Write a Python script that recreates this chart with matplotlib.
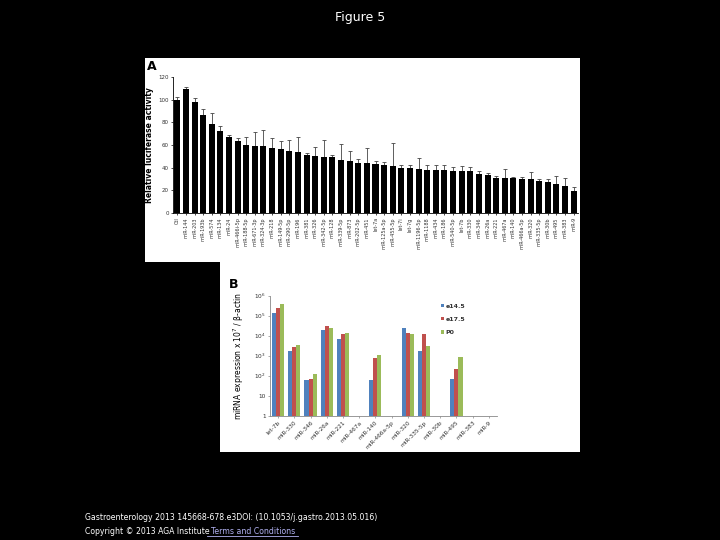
import matplotlib
matplotlib.use("Agg")
import matplotlib.pyplot as plt
import numpy as np

# ---------------- Panel A data ----------------
a_labels = ["Ctl", "miR-144", "miR-203", "miR-193b", "miR-574", "miR-134", "miR-24",
            "miR-466i-5p", "miR-188-5p", "miR-671-3p", "miR-324-3p", "miR-218",
            "miR-149-5p", "miR-290-5p", "miR-196", "miR-381", "miR-326", "miR-342-5p",
            "miR-128", "miR-339-5p", "miR-873", "miR-202-5p", "miR-451", "let-7a",
            "miR-125a-5p", "miR-455-5p", "let-7i", "let-7g", "miR-1196-5p", "miR-1188",
            "miR-434", "miR-186", "miR-540-5p", "let-7b", "miR-330", "miR-346", "miR-26a",
            "miR-221", "miR-467a", "miR-140", "miR-466a-5p", "miR-320", "miR-335-5p",
            "miR-30b", "miR-495", "miR-383", "miR-9"]
a_values = [100, 109, 97.6, 86.8, 78.8, 72.6, 66.8, 63.5, 60, 59.4, 58.8, 57.4,
            56.2, 54.7, 53.5, 51.5, 50.6, 49.1, 49.4, 47, 45.6, 44.4, 44.1, 43.2,
            42.6, 41.5, 39.7, 39.7, 38.8, 38.2, 37.9, 37.6, 37, 37, 37, 34.7, 33.8,
            31.2, 30.9, 30.9, 30.3, 29.7, 28.5, 27.6, 25.3, 24.1, 19.7]
a_errors = [2, 2.5, 4, 5, 9, 4, 2, 3, 7, 12, 14, 8.5, 7, 9.5, 13.5, 1, 8, 15.5,
            2, 14, 9, 3.5, 13, 3, 2.4, 20, 3, 2.6, 9.4, 3.8, 4.7, 4.4, 3.8, 4.1,
            3.3, 2, 1.2, 1.2, 7.6, 0.5, 1.5, 6.2, 1.2, 2, 7, 6.8, 3]
a_yticks = [0, 20, 40, 60, 80, 100, 120]

# ---------------- Panel B data ----------------
b_labels = ["let-7b", "miR-330", "miR-346", "miR-26a", "miR-221", "miR-467a",
            "miR-140", "miR-466a-5p", "miR-320", "miR-335-5p", "miR-30b",
            "miR-495", "miR-383", "miR-9"]
b_series = ["e14.5", "e17.5", "P0"]
# log10 of expression (NaN = not detected)
b_e145 = [5.15, 3.25, 1.78, 4.30, 3.83, np.nan, 1.78, np.nan, 4.40, 3.22, np.nan, 1.85, np.nan, np.nan]
b_e175 = [5.40, 3.45, 1.82, 4.48, 4.08, np.nan, 2.87, np.nan, 4.13, 4.10, np.nan, 2.32, np.nan, np.nan]
b_p0 = [5.57, 3.55, 2.07, 4.40, 4.13, np.nan, 3.03, np.nan, 4.10, 3.50, np.nan, 2.92, np.nan, np.nan]
b_colors = ["#4F81BD", "#C0504D", "#9BBB59"]
b_yticks = [1, 10, 100, 1000, 10000, 100000, 1000000]
b_yticklabels = ["1", "10", "$10^2$", "$10^3$", "$10^4$", "$10^5$", "$10^6$"]

W, H = 720, 540
fig = plt.figure(figsize=(7.2, 5.4), dpi=100)
fig.patch.set_facecolor("black")

def fx(px):
    return px / W

def fy(py):
    return 1 - py / H

def white_box(x0, y0, x1, y1):
    b = fig.add_axes([fx(x0), fy(y1), fx(x1 - x0), (y1 - y0) / H])
    b.set_facecolor("white")
    b.set_xticks([]); b.set_yticks([])
    for s in b.spines.values():
        s.set_visible(False)
    b.set_zorder(0)

white_box(145, 58, 580, 262)
white_box(220, 262, 580, 452)

fig.text(0.5, fy(18), "Figure 5", color="white", ha="center", va="center",
         fontsize=9, family="DejaVu Sans")

# ---------------- Panel A ----------------
axA = fig.add_axes([fx(173), fy(213), fx(578 - 173), (213 - 77) / H])
axA.set_zorder(1)
axA.patch.set_alpha(0)
x = np.arange(len(a_labels))
axA.bar(x, a_values, width=0.7, color="black", zorder=2)
axA.errorbar(x, a_values, yerr=[np.zeros(len(a_errors)), a_errors], fmt="none",
             ecolor="#444444", elinewidth=0.6, capsize=1.4, capthick=0.6, zorder=1)
axA.set_xlim(-0.5, len(a_labels) - 0.5)
axA.set_ylim(0, 120)
axA.set_yticks(a_yticks)
axA.set_yticklabels([str(t) for t in a_yticks], fontsize=4, color="#333333")
axA.set_xticks(x)
axA.set_xticklabels(a_labels, rotation=90, fontsize=3.5, color="#333333")
axA.tick_params(axis="x", length=1.5, width=0.5, pad=1.5)
axA.tick_params(axis="y", length=1.5, width=0.5, pad=1.5)
axA.spines["top"].set_visible(False)
axA.spines["right"].set_visible(False)
axA.spines["left"].set_linewidth(0.6)
axA.spines["bottom"].set_linewidth(0.6)
axA.set_ylabel("Relative luciferase activity", fontsize=5.5, fontweight="bold", labelpad=3)
fig.text(fx(147), fy(66), "A", fontsize=9, fontweight="bold", va="center", ha="left")

# ---------------- Panel B ----------------
axB = fig.add_axes([fx(270), fy(415.7), fx(497 - 270), (415.7 - 295.7) / H])
axB.set_zorder(1)
axB.patch.set_alpha(0)
xb = np.arange(len(b_labels))
bw = 0.25
for i, (vals, col, name) in enumerate(zip([b_e145, b_e175, b_p0], b_colors, b_series)):
    v = np.power(10.0, np.array(vals))
    axB.bar(xb + (i - 1) * bw, v, width=bw, color=col, label=name, bottom=0)
axB.set_yscale("log")
axB.set_ylim(1, 1e6)
axB.set_xlim(-0.5, len(b_labels) - 0.5)
axB.set_yticks(b_yticks)
axB.set_yticklabels(b_yticklabels, fontsize=4.2, color="#333333")
axB.yaxis.set_minor_locator(matplotlib.ticker.NullLocator())
axB.set_xticks(xb)
axB.set_xticklabels(b_labels, rotation=45, ha="right", rotation_mode="anchor",
                    fontsize=4.2, color="#333333")
axB.tick_params(axis="both", length=1.5, width=0.5, pad=1.5, color="#888888")
axB.spines["top"].set_visible(False)
axB.spines["right"].set_visible(False)
axB.spines["left"].set_color("#888888")
axB.spines["bottom"].set_color("#888888")
axB.spines["left"].set_linewidth(0.6)
axB.spines["bottom"].set_linewidth(0.6)
axB.set_ylabel("miRNA expression x 10$^7$ / β-actin", fontsize=5.5, labelpad=6)
leg = axB.legend(loc="upper left", bbox_to_anchor=(0.73, 0.98), frameon=False,
                 fontsize=4.5, handlelength=0.5, handleheight=0.5, handletextpad=0.2,
                 labelspacing=1.3)
for t in leg.get_texts():
    t.set_fontweight("bold")
    t.set_color("#333333")
fig.text(fx(229), fy(285), "B", fontsize=9, fontweight="bold", va="center", ha="left")

# ---------------- Footer ----------------
fs = 5.6
fig.text(fx(85), fy(518), "Gastroenterology 2013 145668-678.e3DOI: (10.1053/j.gastro.2013.05.016)",
         color="white", fontsize=fs, va="center", ha="left")
fig.text(fx(85), fy(531), "Copyright © 2013 AGA Institute", color="white", fontsize=fs,
         va="center", ha="left")
fig.text(fx(211), fy(531), "Terms and Conditions", color="#B0B0F0", fontsize=fs,
         va="center", ha="left")
fig.add_artist(plt.Line2D([fx(207), fx(298)], [fy(535.5), fy(535.5)], color="#B0B0F0", lw=0.6))

fig.savefig("out.png", dpi=100, facecolor=fig.get_facecolor())
